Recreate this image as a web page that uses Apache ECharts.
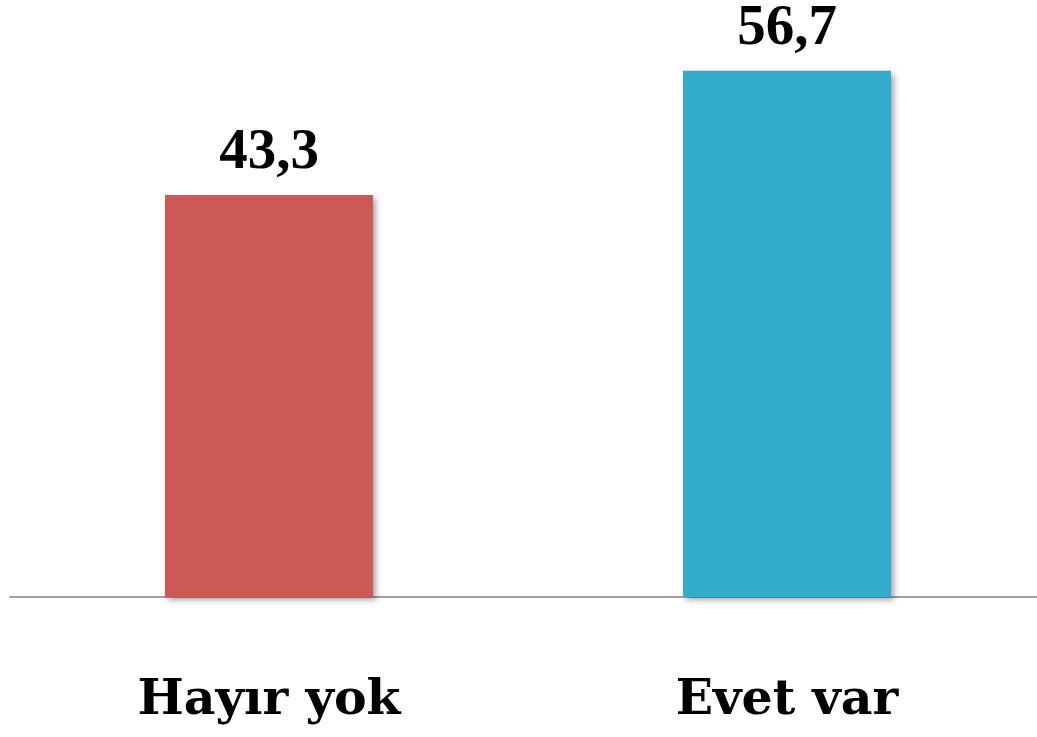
<!DOCTYPE html>
<html>
<head>
<meta charset="utf-8">
<script src="https://cdn.jsdelivr.net/npm/echarts@6/dist/echarts.min.js"></script>
<style>html,body{margin:0;padding:0;background:#fff}#c{width:1037px;height:737px}</style>
</head>
<body>
<div id="c"></div>
<script>
var categories = ['Hayır yok', 'Evet var'];
var values = [43.3, 56.7];
var colors = ['#CD5957', '#33ACCC'];

var chart = echarts.init(document.getElementById('c'));
chart.setOption({
  animation: false,
  grid: { left: 10, right: -9, top: 40, bottom: 140, containLabel: false, outerBoundsMode: 'none' },
  xAxis: {
    type: 'category',
    data: categories,
    axisLine: { show: true, lineStyle: { color: '#A0A0A0', width: 2 } },
    axisTick: { show: false },
    axisLabel: {
      margin: 80,
      fontFamily: 'DejaVu Serif',
      fontWeight: 'bold',
      fontSize: 49,
      color: '#000'
    }
  },
  yAxis: {
    type: 'value', min: 0, max: 60,
    show: false, splitLine: { show: false }
  },
  series: [{
    type: 'bar',
    barWidth: 208,
    data: values.map(function (v, i) {
      return { value: v, itemStyle: { color: colors[i] } };
    }),
    itemStyle: {
      shadowColor: 'rgba(0,0,0,0.35)',
      shadowBlur: 6,
      shadowOffsetX: 3,
      shadowOffsetY: 3
    },
    label: {
      show: true,
      position: 'top',
      distance: 13,
      formatter: function (p) { return String(p.value).replace('.', ','); },
      fontFamily: 'Liberation Serif',
      fontWeight: 'bold',
      fontSize: 57,
      color: '#000'
    }
  }]
});
</script>
</body>
</html>
